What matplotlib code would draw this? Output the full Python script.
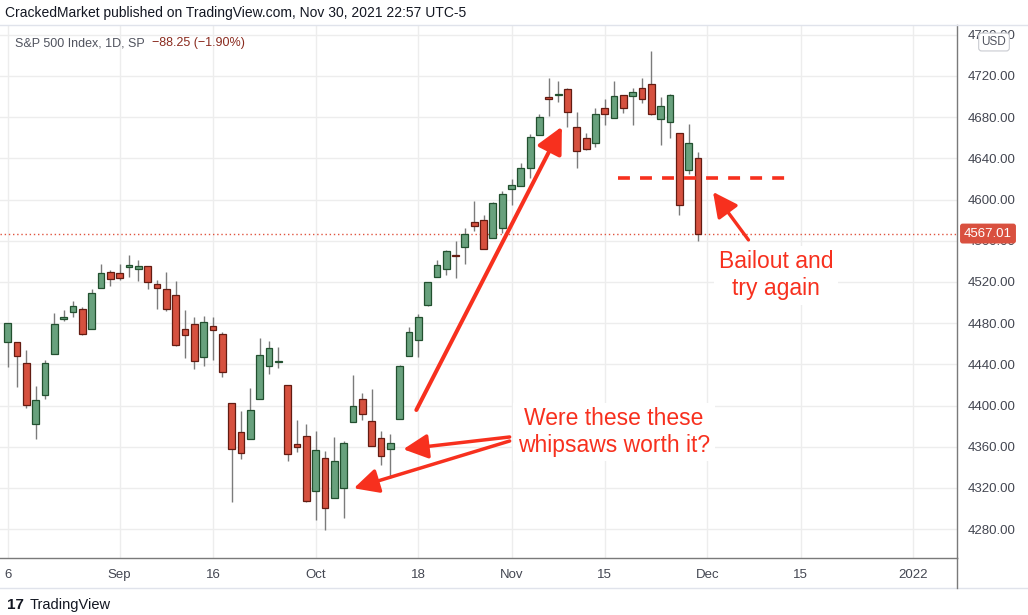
import numpy as np
import matplotlib
matplotlib.use("Agg")
import matplotlib.pyplot as plt
from matplotlib.lines import Line2D
from matplotlib.transforms import blended_transform_factory

plt.rcParams['font.family'] = ['Liberation Sans', 'DejaVu Sans']

# daily S&P 500 bars, Aug 16 .. Nov 30 2021 (one per trading day)
opens = [4461.65, 4462.12, 4440.94, 4382.44, 4410.56, 4450.29, 4484.40, 4490.45, 4493.75, 4474.10,
         4513.76, 4529.75, 4528.80, 4534.48, 4532.42, 4535.38, 4518.09, 4513.02, 4506.92, 4474.81,
         4479.33, 4447.49, 4477.09, 4469.74, 4402.95, 4374.45, 4367.43, 4406.75, 4438.04, 4442.12,
         4419.54, 4362.41, 4370.67, 4317.16, 4348.84, 4309.87, 4319.57, 4383.73, 4406.51, 4385.44,
         4368.31, 4358.01, 4386.75, 4447.69, 4463.72, 4497.34, 4524.42, 4532.24, 4546.12, 4553.69,
         4578.69, 4580.22, 4562.84, 4572.87, 4610.62, 4613.34, 4630.65, 4662.93, 4699.26, 4701.48,
         4707.25, 4670.26, 4659.39, 4655.24, 4689.30, 4679.42, 4701.50, 4700.72, 4708.44, 4712.00,
         4678.48, 4675.78, 4664.63, 4628.75, 4640.25]
highs = [4480.26, 4462.12, 4454.32, 4418.61, 4444.35, 4489.88, 4492.81, 4501.71, 4495.90, 4513.33,
         4537.36, 4531.39, 4537.11, 4545.85, 4541.45, 4535.38, 4521.79, 4529.90, 4520.47, 4492.99,
         4485.68, 4486.87, 4485.87, 4471.52, 4402.95, 4394.87, 4416.75, 4465.40, 4463.12, 4457.30,
         4419.54, 4385.57, 4382.55, 4375.19, 4355.51, 4369.23, 4365.57, 4429.97, 4412.02, 4415.88,
         4374.89, 4372.87, 4439.73, 4475.82, 4488.75, 4520.40, 4540.87, 4551.44, 4559.67, 4572.62,
         4598.53, 4584.57, 4597.55, 4608.08, 4620.34, 4635.15, 4663.46, 4683.00, 4718.50, 4714.92,
         4708.53, 4684.85, 4664.55, 4688.47, 4697.42, 4714.95, 4701.50, 4708.80, 4717.75, 4743.83,
         4699.39, 4702.87, 4664.63, 4672.95, 4646.02]
lows = [4437.66, 4417.83, 4397.59, 4367.73, 4406.80, 4450.29, 4482.28, 4485.66, 4468.99, 4474.10,
        4513.76, 4515.80, 4522.02, 4524.66, 4521.37, 4513.14, 4493.95, 4492.07, 4457.66, 4445.70,
        4435.46, 4438.37, 4443.80, 4427.76, 4305.91, 4347.96, 4367.43, 4406.75, 4430.27, 4436.19,
        4346.33, 4355.08, 4306.24, 4288.52, 4278.94, 4309.87, 4290.49, 4383.73, 4386.22, 4360.59,
        4342.09, 4329.92, 4386.75, 4447.69, 4447.47, 4496.41, 4524.40, 4526.89, 4524.00, 4537.36,
        4569.17, 4551.66, 4562.84, 4567.59, 4595.06, 4613.34, 4621.19, 4662.59, 4681.32, 4694.39,
        4670.87, 4630.86, 4648.31, 4650.77, 4672.86, 4679.42, 4684.41, 4672.78, 4694.22, 4682.17,
        4652.66, 4659.89, 4585.43, 4625.26, 4560.00]
closes = [4479.71, 4448.08, 4400.27, 4405.80, 4441.67, 4479.53, 4486.23, 4496.19, 4469.91, 4509.37,
          4528.79, 4522.68, 4524.09, 4536.95, 4535.43, 4520.03, 4514.07, 4493.28, 4458.58, 4468.73,
          4443.05, 4480.70, 4473.75, 4432.99, 4357.73, 4354.19, 4395.64, 4448.98, 4455.48, 4443.11,
          4352.63, 4359.46, 4307.54, 4357.04, 4300.46, 4345.72, 4363.55, 4399.76, 4391.34, 4361.19,
          4350.65, 4363.80, 4438.26, 4471.37, 4486.46, 4519.63, 4536.19, 4549.78, 4544.90, 4566.48,
          4574.79, 4551.68, 4596.42, 4605.38, 4613.67, 4630.65, 4660.57, 4680.06, 4697.53, 4701.70,
          4685.25, 4646.71, 4649.27, 4682.85, 4682.80, 4700.90, 4688.67, 4704.54, 4697.96, 4682.94,
          4690.70, 4701.46, 4594.62, 4655.27, 4567.01]

# time axis labels, given as bar index (future bars continue the trading-day spacing)
time_tick_bars = [0, 12, 22, 33, 44, 54, 64, 75, 85, 97]
time_tick_labels = ["6", "Sep", "16", "Oct", "18", "Nov", "15", "Dec", "15", "2022"]
price_ticks = list(range(4280, 4761, 40))
last_price = 4567.01

W, H = 1028, 615
RED = '#f7301e'
UP_FILL, UP_EDGE = '#68a17d', '#22502f'
DN_FILL, DN_EDGE = '#d6513f', '#631c12'

fig = plt.figure(figsize=(W / 100, H / 100), dpi=100)
ax = fig.add_axes([0, 1 - 558 / H, 957 / W, (558 - 25) / H])

o = np.array(opens); h = np.array(highs); l = np.array(lows); c = np.array(closes)
idx = np.arange(len(o))
up = c >= o

ax.vlines(idx, l, h, color='#7b7b7b', lw=1, zorder=2)
ax.bar(idx, np.maximum(np.abs(c - o), 0.8), bottom=np.minimum(o, c), width=0.72,
       color=np.where(up, UP_FILL, DN_FILL), edgecolor=np.where(up, UP_EDGE, DN_EDGE),
       lw=0.9, zorder=3)

ax.set_xlim(-0.825, 101.75)
ax.set_ylim(4252.0, 4769.5)

ax.set_yticks(price_ticks)
ax.set_yticklabels(["%.2f" % p for p in price_ticks])
ax.set_xticks(time_tick_bars)
ax.set_xticklabels(time_tick_labels)
ax.yaxis.tick_right()
ax.tick_params(axis='y', length=0, pad=8, labelsize=9.5, labelcolor='#434651')
ax.tick_params(axis='x', length=0, pad=8, labelsize=9.5, labelcolor='#434651')
ax.grid(color='#ededed', lw=1)
ax.set_axisbelow(True)
for s in ('left', 'top'):
    ax.spines[s].set_visible(False)
for s in ('right', 'bottom'):
    ax.spines[s].set_color('#7a7a7a')
    ax.spines[s].set_linewidth(1)

# last price line and its label
ax.axhline(last_price, color='#e0543f', lw=1, ls=(0, (1, 2)), zorder=1.5)
trans = blended_transform_factory(ax.transAxes, ax.transData)
ax.text(1.0 + 7 / 957, last_price, "%.2f" % last_price, transform=trans, ha='left', va='center',
        color='white', fontsize=9.5,
        bbox=dict(boxstyle='round,pad=0.3,rounding_size=0.2', fc='#d9503f', ec='none'))

# annotations drawn on the chart
ax.annotate("", xy=(59.4, 4670.8), xytext=(43.8, 4395.7),
            arrowprops=dict(arrowstyle='-|>,head_length=1.0,head_width=0.5', color=RED,
                            lw=2.9, shrinkA=0, shrinkB=0, mutation_scale=16), zorder=6)
ax.annotate("", xy=(42.4, 4357.6), xytext=(53.8, 4369.5),
            arrowprops=dict(arrowstyle='-|>,head_length=1.0,head_width=0.5', color=RED,
                            lw=2.5, shrinkA=0, shrinkB=0, mutation_scale=15), zorder=6)
ax.annotate("", xy=(37.1, 4319.7), xytext=(53.8, 4365.6),
            arrowprops=dict(arrowstyle='-|>,head_length=1.0,head_width=0.5', color=RED,
                            lw=2.5, shrinkA=0, shrinkB=0, mutation_scale=15), zorder=6)
ax.annotate("", xy=(75.6, 4607.4), xytext=(79.4, 4560.8),
            arrowprops=dict(arrowstyle='-|>,head_length=1.0,head_width=0.5', color=RED,
                            lw=2.4, shrinkA=0, shrinkB=0, mutation_scale=15), zorder=6)
ax.plot([65.4, 83.8], [4621, 4621], color=RED, lw=2.6, dashes=(3.3, 2.8), zorder=5)

ax.text(65.0, 4374.4, "Were these these\nwhipsaws worth it?", ha='center', va='center',
        color=RED, fontsize=16.5, linespacing=1.2, zorder=4,
        bbox=dict(boxstyle='square,pad=0.2', fc='white', ec='none'))
ax.text(82.35, 4526.5, "Bailout and\ntry again", ha='center', va='center',
        color=RED, fontsize=16.5, linespacing=1.2, zorder=4,
        bbox=dict(boxstyle='square,pad=0.2', fc='white', ec='none'))

# frame pieces outside the axes
fig.add_artist(Line2D([0, 1], [1 - 25 / H, 1 - 25 / H], color='#e0e3eb', lw=1))
fig.add_artist(Line2D([0, 1], [1 - 588 / H, 1 - 588 / H], color='#e0e3eb', lw=1))
fig.add_artist(Line2D([957 / W, 957 / W], [1 - 588 / H, 1 - 558 / H], color='#7a7a7a', lw=1))

fig.text(5 / W, 1 - 13 / H, "CrackedMarket published on TradingView.com, Nov 30, 2021 22:57 UTC-5",
         fontsize=10, color='#131722', va='center')
t1 = fig.text(15 / W, 1 - 43 / H, "S&P 500 Index, 1D, SP", fontsize=9, color='#50535e', va='center')
ax.annotate("\u221288.25 (\u22121.90%)", xy=(1, 0.5), xycoords=t1, xytext=(5, 0),
            textcoords='offset points', va='center', ha='left', fontsize=9, color='#8a2b1f')
fig.text(994 / W, 1 - 42 / H, "USD", ha='center', va='center', fontsize=8.5, color='#50535e',
         bbox=dict(boxstyle='round,pad=0.25', fc='white', ec='#c9cbd1', lw=0.8))

fig.text(7 / W, 1 - 605 / H, "17", fontsize=11, fontweight='heavy', color='#131722', va='center')
fig.text(30 / W, 1 - 605 / H, "TradingView", fontsize=10.5, color='#131722', va='center')

fig.savefig("out.png", dpi=100)
